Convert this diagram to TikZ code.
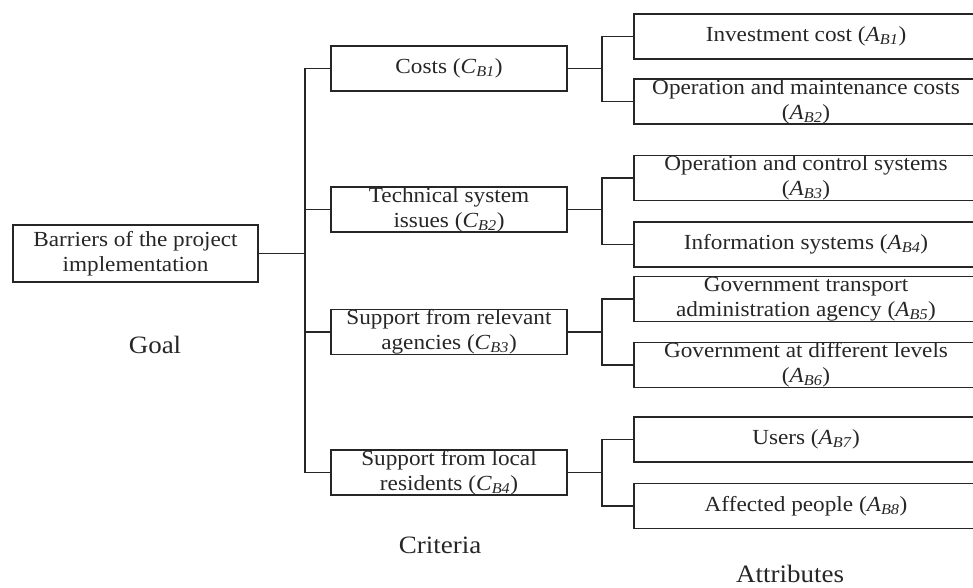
\documentclass[tikz,border=0pt]{standalone}
\usepackage{fontspec}
\setmainfont{Liberation Serif}[FakeStretch=1.08]
\newcommand{\subsym}[2]{\textit{#1}\textsubscript{\textit{#2}}}
\tikzset{
  box/.style={draw=black!85, line width=1.3pt, inner sep=0pt, align=center,
    text=black!85, font=\fontsize{21.5}{25}\selectfont},
  goalbox/.style={box, minimum width=245pt, minimum height=57pt},
  critbox/.style={box, minimum width=236pt, minimum height=45pt},
  attrbox/.style={box, minimum width=344pt, minimum height=45pt},
  level/.style={text=black!85, font=\fontsize{25}{30}\selectfont},
  link/.style={draw=black!85, line width=1.3pt}
}
\begin{document}
\begin{tikzpicture}[x=1pt, y=-1pt]
        \useasboundingbox (0,0) rectangle (973,588);
        % Goal
        \node[goalbox] (goal) at (135.5, 253.5) {Barriers of the project\\implementation};
        % Criteria
        \node[critbox] (c1) at (449, 68.5) {Costs (\subsym{C}{B1})};
        \node[critbox] (c2) at (449, 209.5) {Technical system\\issues (\subsym{C}{B2})};
        \node[critbox] (c3) at (449, 332) {Support from relevant\\agencies (\subsym{C}{B3})};
        \node[critbox] (c4) at (449, 472.5) {Support from local\\residents (\subsym{C}{B4})};
        % Attributes
        \node[attrbox] (a1) at (806, 36.5) {Investment cost (\subsym{A}{B1})};
        \node[attrbox] (a2) at (806, 101.5) {Operation and maintenance costs\\(\subsym{A}{B2})};
        \node[attrbox] (a3) at (806, 178) {Operation and control systems\\(\subsym{A}{B3})};
        \node[attrbox] (a4) at (806, 244.5) {Information systems (\subsym{A}{B4})};
        \node[attrbox] (a5) at (806, 299) {Government transport\\administration agency (\subsym{A}{B5})};
        \node[attrbox] (a6) at (806, 365) {Government at different levels\\(\subsym{A}{B6})};
        \node[attrbox] (a7) at (806, 439.5) {Users (\subsym{A}{B7})};
        \node[attrbox] (a8) at (806, 506) {Affected people (\subsym{A}{B8})};
        % Level labels
        \node[level] (lgoal) at (155, 345) {Goal};
        \node[level] (lcrit) at (440, 545) {Criteria};
        \node[level] (lattr) at (790, 574) {Attributes};
        % Bus points
        \coordinate (g0) at (305, 253.5);
        \coordinate (b1) at (602, 68.5);
        \coordinate (b2) at (602, 209.5);
        \coordinate (b3) at (602, 332);
        \coordinate (b4) at (602, 472.5);
        % Draw the edges
        \draw[link] (goal.east) -- (g0);
        \foreach \c in {c1,c2,c3,c4}
          \draw[link] (\c.west) -| (g0);
        \draw[link] (c1.east) -- (b1);
        \draw[link] (c2.east) -- (b2);
        \draw[link] (c3.east) -- (b3);
        \draw[link] (c4.east) -- (b4);
        \draw[link] (a1.west) -| (b1);
        \draw[link] (a2.west) -| (b1);
        \draw[link] (a3.west) -| (b2);
        \draw[link] (a4.west) -| (b2);
        \draw[link] (a5.west) -| (b3);
        \draw[link] (a6.west) -| (b3);
        \draw[link] (a7.west) -| (b4);
        \draw[link] (a8.west) -| (b4);
    \end{tikzpicture}
\end{document}
